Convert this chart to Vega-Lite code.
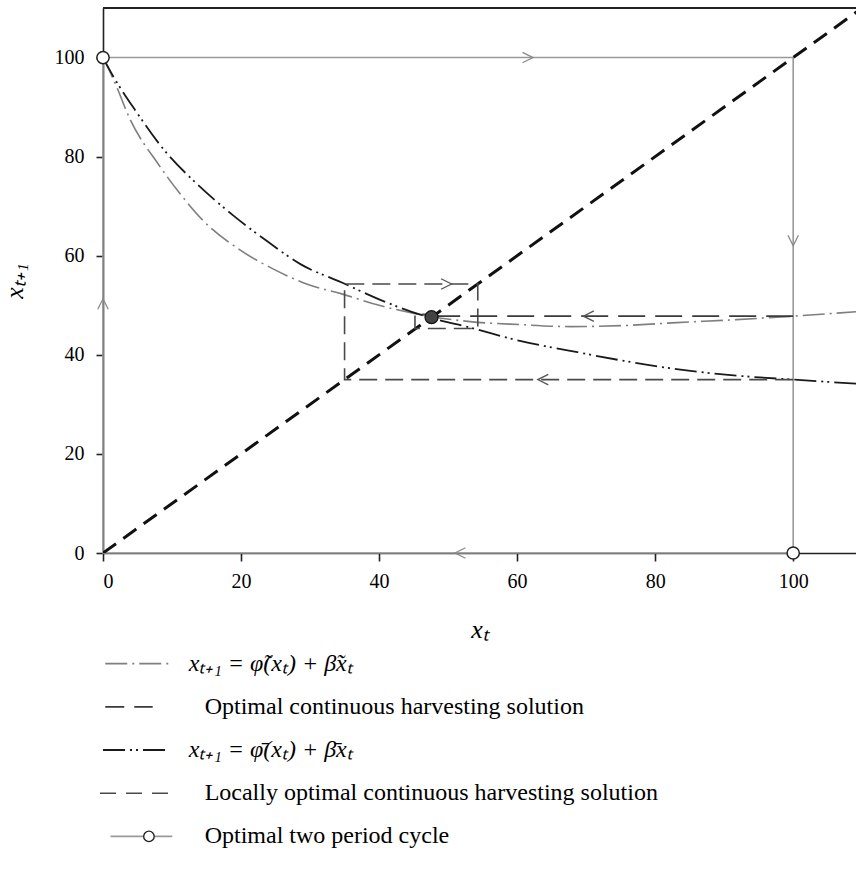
{
  "$schema": "https://vega.github.io/schema/vega-lite/v6.json",
  "padding": {"left": 1, "top": 7, "right": 0, "bottom": 5},
  "spacing": 0,
  "config": {
    "view": {"stroke": null},
    "font": "Liberation Serif",
    "axis": {"grid": false, "labelFont": "Liberation Serif", "titleFont": "Liberation Serif", "labelColor": "#000", "titleColor": "#000", "domainColor": "#222", "tickColor": "#222", "domainWidth": 1.6, "tickWidth": 1.6, "labelFontSize": 20, "titleFontSize": 26, "titleFontWeight": "normal", "titleFontStyle": "italic"}
  },
  "datasets": {
    "curves": [
      {"s": "tilde", "x": 0, "y": 100}, {"s": "tilde", "x": 1.7, "y": 95.0}, {"s": "tilde", "x": 3.9, "y": 87.6}, {"s": "tilde", "x": 8.0, "y": 78.5}, {"s": "tilde", "x": 11.4, "y": 72.1}, {"s": "tilde", "x": 14.5, "y": 67.1}, {"s": "tilde", "x": 19.6, "y": 61.4}, {"s": "tilde", "x": 24.7, "y": 57.3}, {"s": "tilde", "x": 29.5, "y": 54.3}, {"s": "tilde", "x": 34.6, "y": 52.3}, {"s": "tilde", "x": 40, "y": 50.0}, {"s": "tilde", "x": 47.6, "y": 47.7}, {"s": "tilde", "x": 53.2, "y": 46.7}, {"s": "tilde", "x": 60.4, "y": 46.1}, {"s": "tilde", "x": 67.7, "y": 45.7}, {"s": "tilde", "x": 75.4, "y": 45.9}, {"s": "tilde", "x": 83.1, "y": 46.5}, {"s": "tilde", "x": 91.8, "y": 47.1}, {"s": "tilde", "x": 100, "y": 47.8}, {"s": "tilde", "x": 110, "y": 48.8},
      {"s": "bar", "x": 0, "y": 100}, {"s": "bar", "x": 1.0, "y": 97.4}, {"s": "bar", "x": 4.9, "y": 88.9}, {"s": "bar", "x": 8.7, "y": 81.6}, {"s": "bar", "x": 13.6, "y": 74.5}, {"s": "bar", "x": 18.9, "y": 68.1}, {"s": "bar", "x": 24.0, "y": 62.7}, {"s": "bar", "x": 28.6, "y": 58.3}, {"s": "bar", "x": 34.6, "y": 54.6}, {"s": "bar", "x": 40, "y": 51.2}, {"s": "bar", "x": 47.6, "y": 47.4}, {"s": "bar", "x": 53.2, "y": 45.5}, {"s": "bar", "x": 60.4, "y": 42.8}, {"s": "bar", "x": 67.7, "y": 40.8}, {"s": "bar", "x": 75.4, "y": 38.8}, {"s": "bar", "x": 83.1, "y": 37.1}, {"s": "bar", "x": 91.8, "y": 35.8}, {"s": "bar", "x": 100, "y": 35.0}, {"s": "bar", "x": 110, "y": 34.1},
      {"s": "diag", "x": 0, "y": 0}, {"s": "diag", "x": 110, "y": 110}
    ],
    "paths": [
      {"s": "cycle", "ord": 1, "x": 0, "y": 100}, {"s": "cycle", "ord": 2, "x": 100, "y": 100}, {"s": "cycle", "ord": 3, "x": 100, "y": 0}, {"s": "cycle", "ord": 4, "x": 0, "y": 0}, {"s": "cycle", "ord": 5, "x": 0, "y": 100},
      {"s": "local", "ord": 1, "x": 100, "y": 35}, {"s": "local", "ord": 2, "x": 35, "y": 35}, {"s": "local", "ord": 3, "x": 35, "y": 54.3}, {"s": "local", "ord": 4, "x": 54.3, "y": 54.3}, {"s": "local", "ord": 5, "x": 54.3, "y": 45.3}, {"s": "local", "ord": 6, "x": 45.2, "y": 45.3}, {"s": "local", "ord": 7, "x": 45.2, "y": 48.2}, {"s": "local", "ord": 8, "x": 47.8, "y": 48.2},
      {"s": "optimal", "ord": 1, "x": 100, "y": 47.8}, {"s": "optimal", "ord": 2, "x": 47.6, "y": 47.8}
    ],
    "arrows": [
      {"s": "cycle", "dir": "right", "x": 62.3, "y": 100}, {"s": "cycle", "dir": "down", "x": 100, "y": 62}, {"s": "cycle", "dir": "left", "x": 51, "y": 0}, {"s": "cycle", "dir": "up", "x": 0, "y": 51.3},
      {"s": "cob", "dir": "left", "x": 63, "y": 35}, {"s": "cob", "dir": "right", "x": 50.5, "y": 54.3}, {"s": "cob", "dir": "left", "x": 69.6, "y": 47.8}
    ],
    "dots": [
      {"s": "cycle", "x": 0, "y": 100}, {"s": "cycle", "x": 100, "y": 0}, {"s": "eq", "x": 47.6, "y": 47.6}
    ],
    "legend": [
      {"row": 1, "kind": "math", "label": "x\u209c\u208a\u2081 = \u03c6\u0303(x\u209c) + \u03b2\u0303x\u209c"},
      {"row": 2, "kind": "text", "label": "Optimal continuous harvesting solution"},
      {"row": 3, "kind": "math", "label": "x\u209c\u208a\u2081 = \u03c6\u0304(x\u209c) + \u03b2\u0304x\u209c"},
      {"row": 4, "kind": "text", "label": "Locally optimal continuous harvesting solution"},
      {"row": 5, "kind": "text", "label": "Optimal two period cycle"}
    ]
  },
  "vconcat": [
    {
      "width": 753,
      "height": 545,
      "encoding": {
        "x": {"field": "x", "type": "quantitative", "scale": {"domain": [0, 109.1], "nice": false, "zero": false},
              "axis": {"values": [0, 20, 40, 60, 80, 100], "tickSize": 8, "labelPadding": 10, "title": "x\u209c", "titlePadding": 25}},
        "y": {"field": "y", "type": "quantitative", "scale": {"domain": [0, 110], "nice": false, "zero": false},
              "axis": {"values": [0, 20, 40, 60, 80, 100], "tickSize": 7, "labelPadding": 12, "title": "x\u209c\u208a\u2081", "titlePadding": 27}}
      },
      "layer": [
        {"data": {"name": "dots"}, "transform": [{"filter": "datum.s == 'eq'"}],
         "mark": {"type": "rule", "color": "#222", "strokeWidth": 2},
         "encoding": {"y": {"datum": 110}, "x": {"datum": 0}, "x2": {"datum": 109.1}}},
        {"data": {"name": "paths"}, "transform": [{"filter": "datum.s == 'cycle'"}],
         "mark": {"type": "line", "color": "#9a9a9a", "strokeWidth": 1.6},
         "encoding": {"order": {"field": "ord", "type": "quantitative"}}},
        {"data": {"name": "curves"}, "transform": [{"filter": "datum.s == 'tilde'"}],
         "mark": {"type": "line", "color": "#7f7f7f", "strokeWidth": 1.6, "strokeDash": [22, 5, 2, 5], "clip": true, "interpolate": "monotone"},
         "encoding": {}},
        {"data": {"name": "curves"}, "transform": [{"filter": "datum.s == 'bar'"}],
         "mark": {"type": "line", "color": "#1a1a1a", "strokeWidth": 1.8, "strokeDash": [22, 5, 2, 4, 2, 5], "clip": true, "interpolate": "monotone"},
         "encoding": {}},
        {"data": {"name": "curves"}, "transform": [{"filter": "datum.s == 'diag'"}],
         "mark": {"type": "line", "color": "#111", "strokeWidth": 3, "strokeDash": [16, 9], "clip": true},
         "encoding": {}},
        {"data": {"name": "paths"}, "transform": [{"filter": "datum.s == 'local'"}],
         "mark": {"type": "line", "color": "#4a4a4a", "strokeWidth": 1.6, "strokeDash": [18, 8]},
         "encoding": {"order": {"field": "ord", "type": "quantitative"}}},
        {"data": {"name": "paths"}, "transform": [{"filter": "datum.s == 'optimal'"}],
         "mark": {"type": "line", "color": "#3a3a3a", "strokeWidth": 1.8, "strokeDash": [27, 10]},
         "encoding": {"order": {"field": "ord", "type": "quantitative"}}},
        {"data": {"name": "arrows"}, "transform": [{"filter": "datum.dir == 'right'"}],
         "mark": {"type": "point", "shape": "M-2,-1L0,0L-2,1", "filled": false, "strokeWidth": 1.3, "size": 110, "opacity": 1, "angle": 0},
         "encoding": {"color": {"field": "s", "type": "nominal", "scale": {"domain": ["cycle", "cob"], "range": ["#8a8a8a", "#555555"]}, "legend": null}}},
        {"data": {"name": "arrows"}, "transform": [{"filter": "datum.dir == 'down'"}],
         "mark": {"type": "point", "shape": "M-2,-1L0,0L-2,1", "filled": false, "strokeWidth": 1.3, "size": 110, "opacity": 1, "angle": 90},
         "encoding": {"color": {"field": "s", "type": "nominal", "scale": {"domain": ["cycle", "cob"], "range": ["#8a8a8a", "#555555"]}, "legend": null}}},
        {"data": {"name": "arrows"}, "transform": [{"filter": "datum.dir == 'left'"}],
         "mark": {"type": "point", "shape": "M-2,-1L0,0L-2,1", "filled": false, "strokeWidth": 1.3, "size": 110, "opacity": 1, "angle": 180},
         "encoding": {"color": {"field": "s", "type": "nominal", "scale": {"domain": ["cycle", "cob"], "range": ["#8a8a8a", "#555555"]}, "legend": null}}},
        {"data": {"name": "arrows"}, "transform": [{"filter": "datum.dir == 'up'"}],
         "mark": {"type": "point", "shape": "M-2,-1L0,0L-2,1", "filled": false, "strokeWidth": 1.3, "size": 110, "opacity": 1, "angle": 270},
         "encoding": {"color": {"field": "s", "type": "nominal", "scale": {"domain": ["cycle", "cob"], "range": ["#8a8a8a", "#555555"]}, "legend": null}}},
        {"data": {"name": "dots"}, "transform": [{"filter": "datum.s == 'cycle'"}],
         "mark": {"type": "point", "shape": "circle", "filled": true, "fill": "#fff", "stroke": "#222", "strokeWidth": 1.5, "size": 150, "opacity": 1},
         "encoding": {}},
        {"data": {"name": "dots"}, "transform": [{"filter": "datum.s == 'eq'"}],
         "mark": {"type": "point", "shape": "circle", "filled": true, "fill": "#444", "stroke": "#111", "strokeWidth": 1.2, "size": 170, "opacity": 1},
         "encoding": {}}
      ]
    },
    {
      "width": 753,
      "height": 216,
      "data": {"name": "legend"},
      "encoding": {
        "y": {"field": "row", "type": "quantitative", "scale": {"domain": [0.5, 5.5], "reverse": true, "nice": false, "zero": false}, "axis": null}
      },
      "layer": [
        {"transform": [{"filter": "datum.row == 1"}],
         "mark": {"type": "rule", "color": "#7f7f7f", "strokeWidth": 1.6, "strokeDash": [22, 5, 2, 5]},
         "encoding": {"x": {"datum": 0.3, "type": "quantitative", "scale": {"domain": [0, 100], "nice": false, "zero": false}, "axis": null}, "x2": {"datum": 8.9}}},
        {"transform": [{"filter": "datum.row == 2"}],
         "mark": {"type": "rule", "color": "#3a3a3a", "strokeWidth": 1.8, "strokeDash": [19, 10]},
         "encoding": {"x": {"datum": 0.3, "type": "quantitative"}, "x2": {"datum": 6.6}}},
        {"transform": [{"filter": "datum.row == 3"}],
         "mark": {"type": "rule", "color": "#1a1a1a", "strokeWidth": 1.8, "strokeDash": [22, 5, 2, 4, 2, 5]},
         "encoding": {"x": {"datum": 0, "type": "quantitative"}, "x2": {"datum": 8.6}}},
        {"transform": [{"filter": "datum.row == 4"}],
         "mark": {"type": "rule", "color": "#4a4a4a", "strokeWidth": 1.6, "strokeDash": [16, 10]},
         "encoding": {"x": {"datum": -0.4, "type": "quantitative"}, "x2": {"datum": 8.9}}},
        {"transform": [{"filter": "datum.row == 5"}],
         "mark": {"type": "rule", "color": "#9a9a9a", "strokeWidth": 1.6},
         "encoding": {"x": {"datum": 1.0, "type": "quantitative"}, "x2": {"datum": 9.2}}},
        {"transform": [{"filter": "datum.row == 5"}],
         "mark": {"type": "point", "shape": "circle", "filled": true, "fill": "#fff", "stroke": "#222", "strokeWidth": 1.4, "size": 110, "opacity": 1},
         "encoding": {"x": {"datum": 6.1, "type": "quantitative"}}},
        {"transform": [{"filter": "datum.kind == 'math'"}],
         "mark": {"type": "text", "align": "left", "baseline": "middle", "font": "Liberation Serif", "fontSize": 24, "fontStyle": "italic", "color": "#000"},
         "encoding": {"x": {"datum": 11.4, "type": "quantitative"}, "text": {"field": "label"}}},
        {"transform": [{"filter": "datum.kind == 'text'"}],
         "mark": {"type": "text", "align": "left", "baseline": "middle", "font": "Liberation Serif", "fontSize": 24, "color": "#000"},
         "encoding": {"x": {"datum": 13.5, "type": "quantitative"}, "text": {"field": "label"}}}
      ]
    }
  ]
}
